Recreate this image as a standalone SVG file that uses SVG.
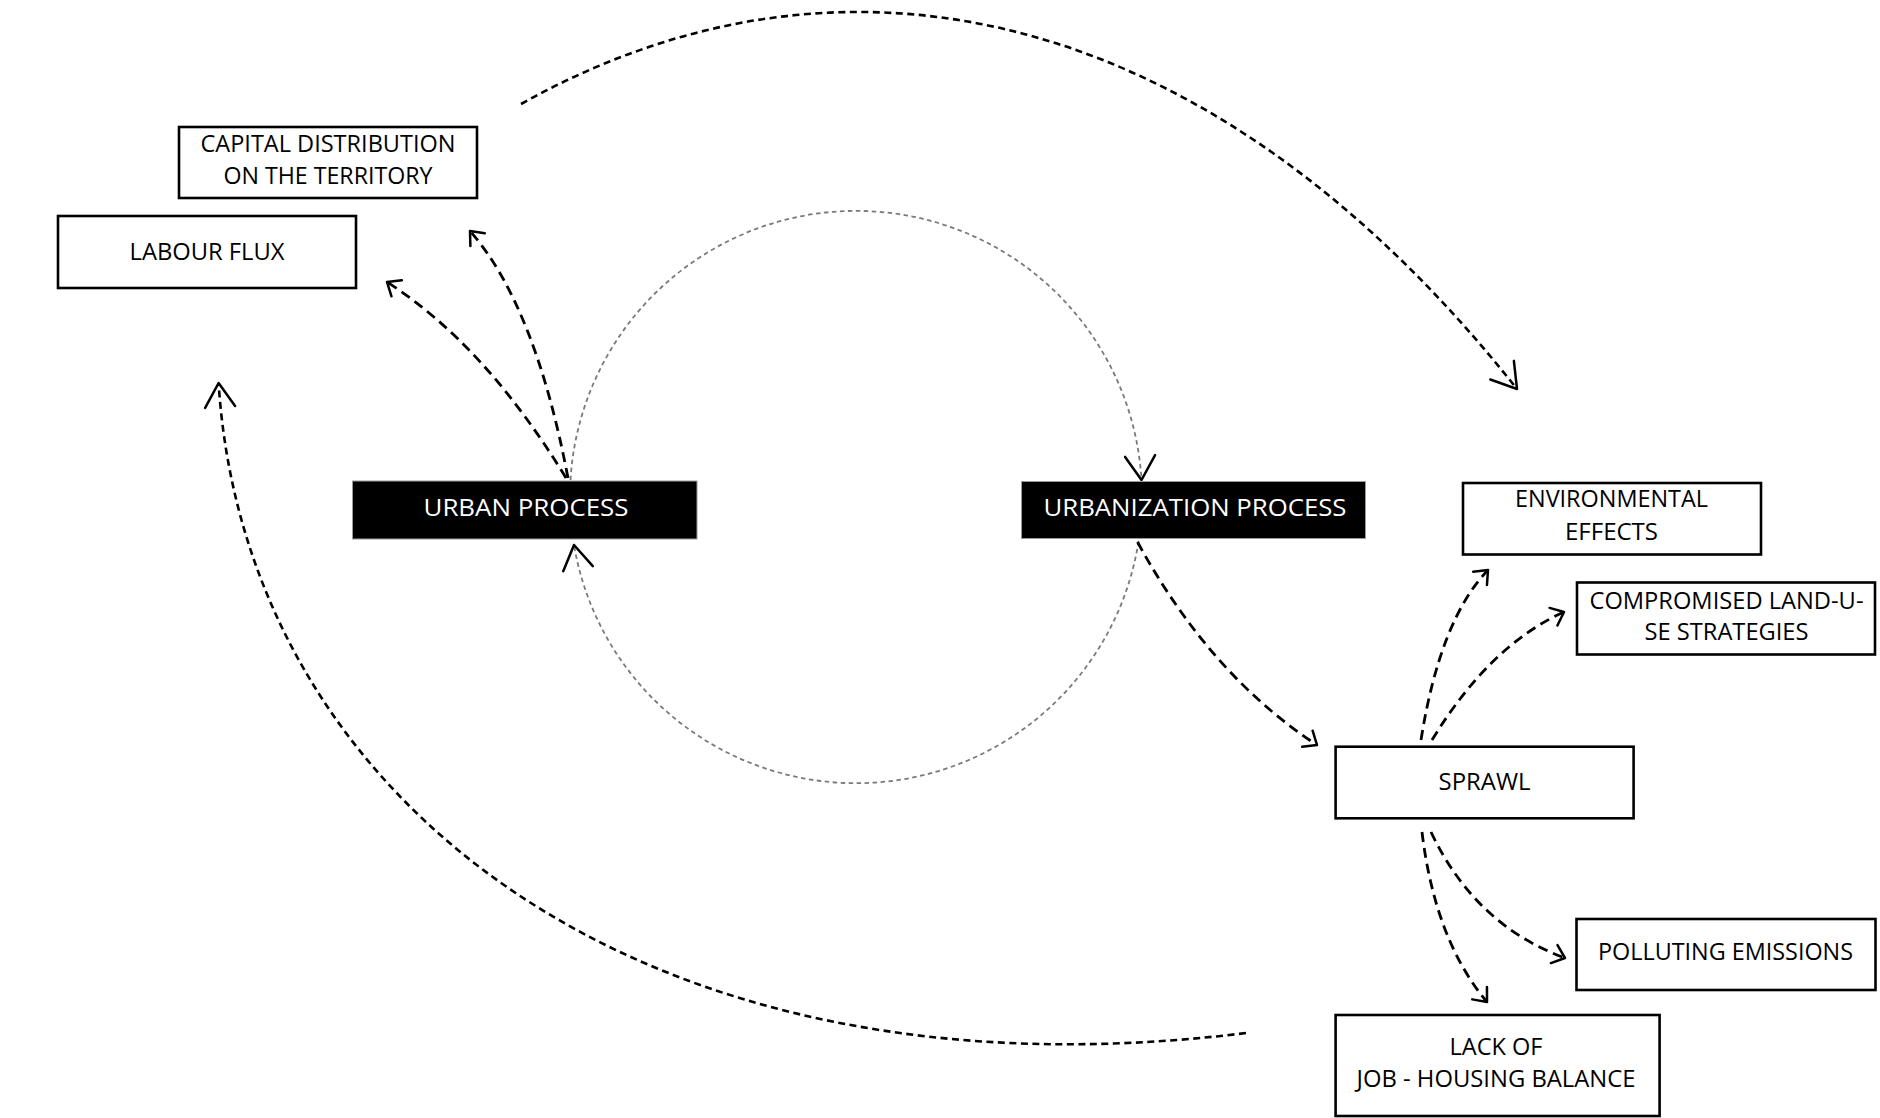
<svg xmlns="http://www.w3.org/2000/svg" width="1880" height="1118" viewBox="0 0 1880 1118">
<style>
  .box { fill: #ffffff; stroke: #000000; stroke-width: 2.6; }
  .dark { fill: #000000; stroke: #9a9a9a; stroke-width: 1; }
  .lbl { font-family: "Open Sans", "Liberation Sans", sans-serif; font-size: 24px; fill: #000000; text-anchor: middle; }
  .lbl.w { fill: #ffffff; }
  .gray { fill: none; stroke: #7a7a7a; stroke-width: 1.8; stroke-dasharray: 4.5 3.5; }
  .big { fill: none; stroke: #000000; stroke-width: 2.6; stroke-dasharray: 7 4.5; }
  .small { fill: none; stroke: #000000; stroke-width: 2.8; stroke-dasharray: 10 6; }
  .head { fill: none; stroke: #000000; stroke-width: 2.5; stroke-dasharray: none; stroke-linecap: round; stroke-linejoin: round; }
</style>
<defs>
  <marker id="bigHead" markerUnits="userSpaceOnUse" markerWidth="60" markerHeight="60" refX="0" refY="0" orient="auto" overflow="visible">
    <path class="head" d="M-24,-15 L0,0 L-24,15"/>
  </marker>
  <marker id="smallHead" markerUnits="userSpaceOnUse" markerWidth="40" markerHeight="40" refX="0" refY="0" orient="auto" overflow="visible">
    <path class="head" d="M-11.5,-9.6 L0,0 L-11.5,9.6"/>
  </marker>
</defs>
<rect width="1880" height="1118" fill="#ffffff"/>

<g id="connectors">
  <path id="c-cycle-top" class="gray" d="M570.5,480 A286,286 0 0,1 1141.5,480" marker-end="url(#bigHead)"/>
  <path id="c-cycle-bottom" class="gray" d="M1138.6,541 A286,286 0 0,1 574,545" marker-end="url(#bigHead)"/>
  <path id="c-top-arc" class="big" d="M521,104 A1172,2179 0 0,1 1517,389" marker-end="url(#bigHead)"/>
  <path id="c-left-arc" class="big" d="M1246,1033 C640,1108 245,800 218.6,383" marker-end="url(#bigHead)"/>
  <path id="c-urban-capital" class="small" d="M568,478 Q535,305 470,231" marker-end="url(#smallHead)"/>
  <path id="c-urban-labour" class="small" d="M566,478 Q485,345 387,282" marker-end="url(#smallHead)"/>
  <path id="c-urbanization-sprawl" class="small" d="M1137.5,542 Q1210,675 1317,745" marker-end="url(#smallHead)"/>
  <path id="c-sprawl-env" class="small" d="M1421,740 Q1440,620 1488,570" marker-end="url(#smallHead)"/>
  <path id="c-sprawl-comp" class="small" d="M1432,740 Q1490,645 1564,612" marker-end="url(#smallHead)"/>
  <path id="c-sprawl-poll" class="small" d="M1431,832 Q1475,925 1565,958" marker-end="url(#smallHead)"/>
  <path id="c-sprawl-lack" class="small" d="M1422,832 Q1435,940 1487,1002" marker-end="url(#smallHead)"/>
</g>

<g id="n-capital">
  <rect class="box" x="179" y="127" width="298" height="71"/>
  <text class="lbl" x="328" y="152" textLength="255" lengthAdjust="spacingAndGlyphs">CAPITAL DISTRIBUTION</text>
  <text class="lbl" x="328" y="183.5" textLength="209" lengthAdjust="spacingAndGlyphs">ON THE TERRITORY</text>
</g>
<g id="n-labour">
  <rect class="box" x="58" y="216" width="298" height="72"/>
  <text class="lbl" x="207" y="259.5" textLength="155" lengthAdjust="spacingAndGlyphs">LABOUR FLUX</text>
</g>
<g id="n-urban">
  <rect class="dark" x="352.5" y="481" width="344.5" height="58"/>
  <text class="lbl w" x="526" y="515.5" textLength="205" lengthAdjust="spacingAndGlyphs">URBAN PROCESS</text>
</g>
<g id="n-urbanization">
  <rect class="dark" x="1021.5" y="481.5" width="344" height="57"/>
  <text class="lbl w" x="1195" y="515.5" textLength="303" lengthAdjust="spacingAndGlyphs">URBANIZATION PROCESS</text>
</g>
<g id="n-env">
  <rect class="box" x="1463" y="483" width="298" height="71.5"/>
  <text class="lbl" x="1611.5" y="507" textLength="193" lengthAdjust="spacingAndGlyphs">ENVIRONMENTAL</text>
  <text class="lbl" x="1611.5" y="540" textLength="93" lengthAdjust="spacingAndGlyphs">EFFECTS</text>
</g>
<g id="n-comp">
  <rect class="box" x="1577" y="582.5" width="298" height="72"/>
  <text class="lbl" x="1726.5" y="608.5" textLength="274" lengthAdjust="spacingAndGlyphs">COMPROMISED LAND-U-</text>
  <text class="lbl" x="1726.5" y="640" textLength="164" lengthAdjust="spacingAndGlyphs">SE STRATEGIES</text>
</g>
<g id="n-sprawl">
  <rect class="box" x="1335.6" y="746.7" width="298" height="71.6"/>
  <text class="lbl" x="1484.6" y="789.5" textLength="92" lengthAdjust="spacingAndGlyphs">SPRAWL</text>
</g>
<g id="n-poll">
  <rect class="box" x="1576.5" y="919" width="299" height="71"/>
  <text class="lbl" x="1725.5" y="960" textLength="255" lengthAdjust="spacingAndGlyphs">POLLUTING EMISSIONS</text>
</g>
<g id="n-lack">
  <rect class="box" x="1335.6" y="1015" width="324" height="101"/>
  <text class="lbl" x="1496" y="1054.5" textLength="93" lengthAdjust="spacingAndGlyphs">LACK OF</text>
  <text class="lbl" x="1496" y="1087" textLength="279" lengthAdjust="spacingAndGlyphs">JOB - HOUSING BALANCE</text>
</g>
</svg>
